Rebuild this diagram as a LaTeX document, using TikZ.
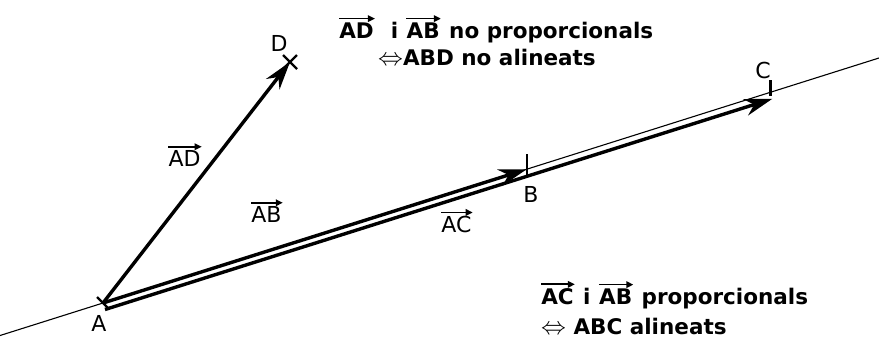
\documentclass[tikz,border=0pt]{standalone}
\usepackage{fontspec}
\setmainfont{DejaVu Sans}
\usepackage{xcolor}
\usepackage{tikz}
\usetikzlibrary{arrows.meta,calc,positioning}
\definecolor{ink}{HTML}{000000}
\newcommand{\vecarrow}[1]{\tikz[baseline=(v.base),x=1pt,y=1pt]{\node[inner sep=0pt] (v) {#1};
  \draw[ink, line width=1.7pt, -{Triangle[length=7pt,width=6.5pt]}] ([yshift=3.5pt]v.north west) -- ([yshift=3.5pt,xshift=1pt]v.north east);}}
\newcommand{\equivarrow}{{\fontsize{26}{26}\selectfont$\Leftrightarrow$}}

\begin{document}
\begin{tikzpicture}[x=1pt,y=-1pt,
    vecline/.style={draw=ink, line width=3.4pt, -{Stealth[length=28pt,width=17pt,inset=9pt]}},
    axisline/.style={draw=ink, line width=1.1pt},
    tickmark/.style={draw=ink, line width=2.4pt},
    ptlabel/.style={font=\fontsize{22}{22}\selectfont, text=ink, inner sep=0pt},
    note/.style={font=\bfseries\fontsize{21.5}{22}\selectfont, text=ink, inner sep=0pt, anchor=base west}]
  \useasboundingbox (0,0) rectangle (879,341);
  % points on the line
  \coordinate (A) at (103,303);
  \coordinate (lineR) at (879,58);
  \coordinate (lineL) at ($(A)!-0.1327!(lineR)$);
  \coordinate (B) at ($(A)!0.546!(lineR)$);
  \coordinate (C) at ($(A)!0.86!(lineR)$);
  \coordinate (D) at (290,62);
  \coordinate (Alow) at ($(A)+(2,6.5)$);
  \coordinate (Clow) at ($(C)+(2,6.5)$);

  \draw[axisline] (lineL) -- (lineR);
  \draw[vecline] (Alow) -- (Clow);
  \draw[vecline] (A) -- (B);
  \draw[vecline] (A) -- (D);

  % marks
  \draw[tickmark] ($(B)+(0,-15)$) -- ($(B)+(0,8)$);
  \draw[tickmark] ($(C)+(0,-12)$) -- ($(C)+(0,4)$);
  \draw[tickmark] ($(D)+(-7,-7)$) -- ($(D)+(7,7)$);
  \draw[tickmark] ($(D)+(-7,7)$) -- ($(D)+(7,-7)$);
  \draw[tickmark] ($(A)+(-6,-6)$) -- ($(A)+(6,6)$);

  \node[ptlabel] (lA) at (99,323) {A};
  \node[ptlabel] (lB) at (531,194) {B};
  \node[ptlabel] (lC) at (763,70) {C};
  \node[ptlabel] (lD) at (279,43) {D};

  \node[ptlabel] (vAD) at (185,155) {\vecarrow{AD}};
  \node[ptlabel] (vAB) at (267,211) {\vecarrow{AB}};
  \node[ptlabel] (vAC) at (457,221) {\vecarrow{AC}};

  \node[note] (noteD1) at (338,38) {\vecarrow{AD}\ \ i \vecarrow{AB} no proporcionals};
  \node[note] (noteD2) at (378,65) {\equivarrow ABD no alineats};
  \node[note] (noteC1) at (540,304) {\vecarrow{AC} i \vecarrow{AB} proporcionals};
  \node[note] (noteC2) at (541,334) {\equivarrow\ ABC alineats};
\end{tikzpicture}
\end{document}
